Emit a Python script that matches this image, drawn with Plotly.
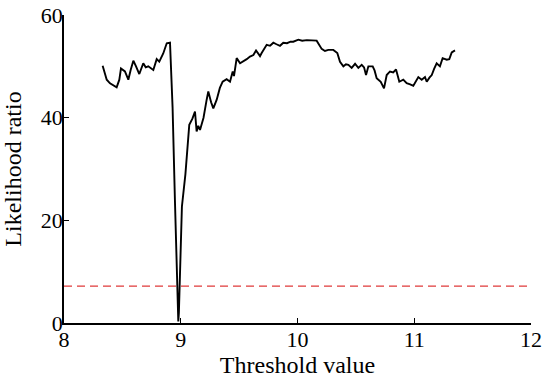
import plotly.graph_objects as go

# threshold value vs likelihood ratio
threshold = [8.331, 8.366, 8.394, 8.451, 8.474, 8.488, 8.522, 8.551, 8.571, 8.594,
             8.617, 8.645, 8.679, 8.700, 8.722, 8.745, 8.765, 8.794, 8.816, 8.850,
             8.880, 8.908, 8.930, 8.950, 8.966, 8.975, 8.979, 8.984, 8.992, 9.000,
             9.010, 9.040, 9.073, 9.100, 9.122, 9.136, 9.150, 9.165, 9.195, 9.222,
             9.236, 9.260, 9.279, 9.308, 9.335, 9.359, 9.393, 9.422, 9.445, 9.456,
             9.479, 9.508, 9.540, 9.565, 9.593, 9.622, 9.645, 9.679, 9.693, 9.707,
             9.736, 9.765, 9.793, 9.820, 9.850, 9.878, 9.910, 9.940, 9.964, 10.007,
             10.040, 10.080, 10.120, 10.164, 10.207, 10.235, 10.264, 10.307, 10.341,
             10.364, 10.393, 10.415, 10.436, 10.464, 10.493, 10.521, 10.550, 10.570,
             10.587, 10.607, 10.644, 10.660, 10.678, 10.713, 10.741, 10.764, 10.792,
             10.820, 10.844, 10.872, 10.906, 10.935, 10.965, 10.992, 11.035, 11.064,
             11.092, 11.107, 11.130, 11.150, 11.170, 11.192, 11.220, 11.243, 11.278,
             11.300, 11.321, 11.349]
ratio = [50.1, 47.4, 46.7, 45.9, 47.4, 49.6, 49.0, 47.4, 49.3, 51.1,
         50.0, 48.5, 50.6, 49.8, 50.0, 49.6, 49.3, 51.4, 50.9, 52.5,
         54.5, 54.6, 42.0, 24.0, 9.0, 3.0, 0.3, 2.0, 9.0, 16.0,
         22.7, 29.0, 38.6, 39.8, 41.2, 37.3, 38.4, 37.6, 40.0, 43.5,
         45.1, 43.0, 41.8, 43.5, 45.8, 47.0, 47.5, 47.0, 49.0, 48.1,
         51.6, 50.6, 51.0, 51.4, 51.9, 52.2, 53.1, 52.0, 52.6, 53.2,
         54.2, 54.0, 54.6, 54.3, 54.0, 54.6, 54.5, 54.8, 54.8, 55.2,
         55.0, 55.1, 55.0, 55.0, 53.4, 53.0, 53.2, 53.2, 52.6,
         50.9, 50.0, 50.4, 50.3, 49.7, 50.5, 49.7, 50.3, 49.8,
         48.3, 50.0, 50.0, 49.2, 47.7, 47.0, 45.7, 48.3, 49.0,
         48.8, 49.4, 47.0, 47.4, 46.7, 46.5, 46.2, 47.9, 47.4,
         47.9, 47.0, 47.8, 48.3, 49.5, 50.6, 50.0, 51.6, 51.3,
         51.4, 52.7, 53.1]

critical_x = [8, 12]
critical_y = [7.2, 7.2]

fig = go.Figure()
fig.add_trace(go.Scatter(x=critical_x, y=critical_y, mode='lines',
                         line=dict(color='#e03a3a', width=1.2, dash='8px,5px'),
                         showlegend=False))
fig.add_trace(go.Scatter(x=threshold, y=ratio, mode='lines',
                         line=dict(color='black', width=1.9),
                         showlegend=False))

fig.update_layout(
    width=550, height=383,
    margin=dict(l=64, r=19, t=15, b=60),
    paper_bgcolor='white',
    plot_bgcolor='white',
    font=dict(family='Liberation Serif, Times New Roman, serif', size=22, color='black'),
    xaxis=dict(
        range=[8, 12],
        tickvals=[8, 9, 10, 11, 12],
        ticks='inside', ticklen=5, tickwidth=1.2, tickcolor='black',
        ticklabelstandoff=-4,
        showline=True, linecolor='black', linewidth=1.5,
        showgrid=False, zeroline=False, automargin=False,
        title=dict(text='Threshold value', font=dict(size=24), standoff=5),
    ),
    yaxis=dict(
        range=[0, 60],
        tickvals=[0, 20, 40, 60],
        ticks='inside', ticklen=5, tickwidth=1.2, tickcolor='black',
        ticklabelstandoff=-5,
        showline=True, linecolor='black', linewidth=1.5,
        showgrid=False, zeroline=False, automargin=False,
        title=dict(text='Likelihood ratio', font=dict(size=24), standoff=12),
    ),
)

# drop the page's default body margin so the figure sits at the window corner
fig.write_html("out.html", config={'displayModeBar': False},
               post_script="document.body.style.margin='0';")
